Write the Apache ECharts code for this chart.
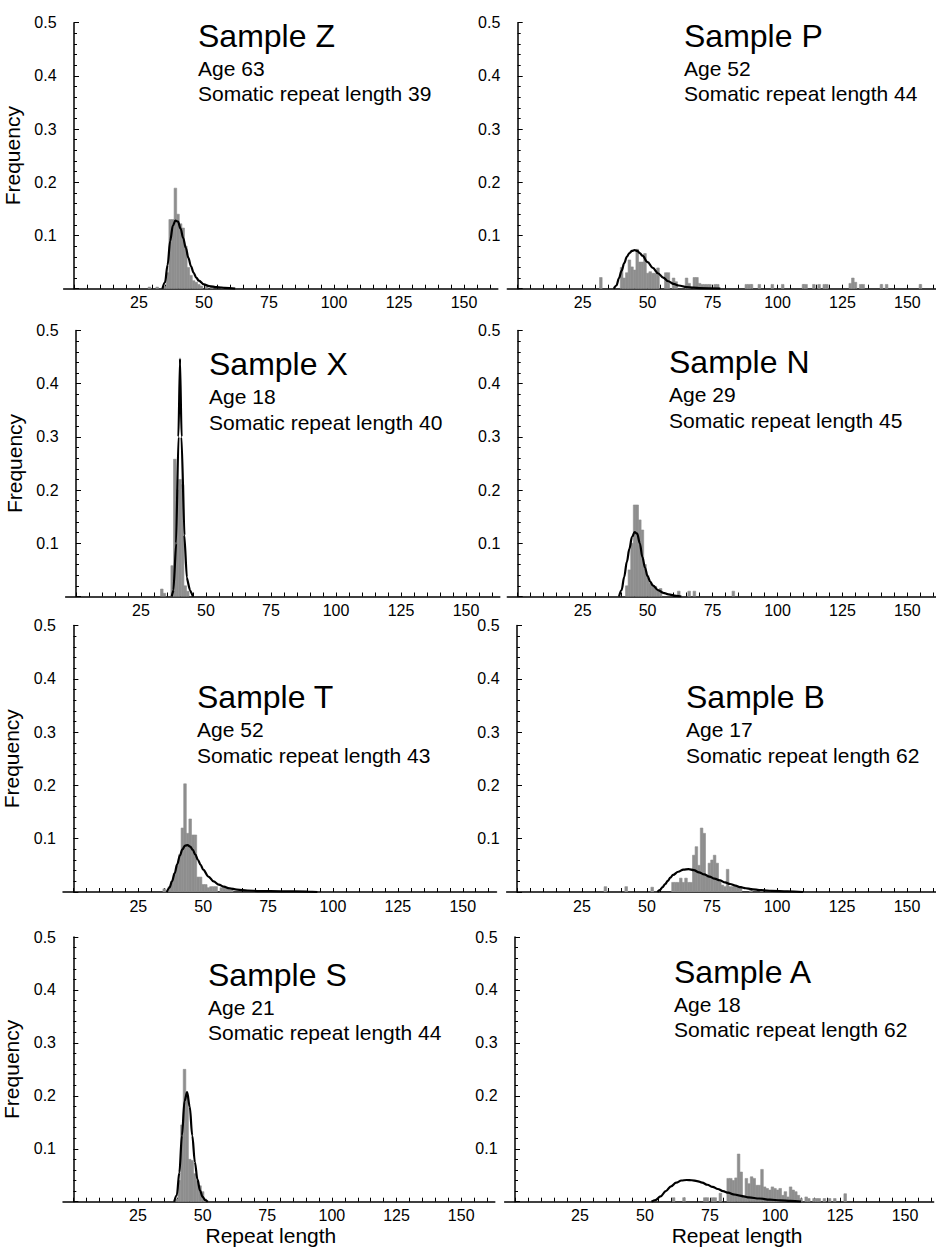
<!DOCTYPE html>
<html><head><meta charset="utf-8">
<script src="https://cdn.jsdelivr.net/npm/echarts@6/dist/echarts.min.js"></script>
<style>html,body{margin:0;padding:0;background:#fff}#c{width:936px;height:1247px}</style>
</head><body><div id="c"></div>
<script>
// ---------- data ----------
const sampleNames = ['Sample Z','Sample P','Sample X','Sample N','Sample T','Sample B','Sample S','Sample A'];
const ages = [63,52,18,29,52,17,21,18];
const somaticLengths = [39,44,40,45,43,62,44,62];
const xTickLabels = [25,50,75,100,125,150];
const yTickLabels = [0.1,0.2,0.3,0.4,0.5];

const barsZ = [[29,0.003],[32,0.003],[35,0.004],[36,0.03],[37,0.13],[38,0.13],[39,0.189],[40,0.14],[41,0.122],[42,0.114],[43,0.08],[44,0.04],[45,0.025],[46,0.015],[47,0.012],[48,0.008],[49,0.005],[51,0.006],[53,0.003],[57,0.003]];
const curveZ = [[34,0],[35,0.012],[36,0.045],[37,0.09],[38,0.118],[39,0.128],[40,0.126],[41,0.113],[42,0.095],[43,0.077],[44,0.058],[45,0.042],[46,0.03],[47,0.021],[48,0.015],[50,0.008],[52,0.005],[55,0.003],[58,0.0015],[62,0]];

const barsP = [[32,0.021],[40,0.04],[41,0.02],[42,0.03],[43,0.054],[44,0.041],[45,0.035],[46,0.074],[47,0.05],[48,0.05],[49,0.066],[50,0.029],[51,0.032],[52,0.029],[53,0.029],[54,0.039],[57,0.03],[58,0.03],[60,0.02],[61,0.013],[65,0.02],[66,0.01],[68,0.021],[69,0.021],[70,0.01],[71,0.008],[72,0.008],[73,0.008],[74,0.008],[76,0.008],[77,0.008],[88,0.008],[89,0.008],[90,0.008],[93,0.008],[98,0.008],[102,0.008],[110,0.008],[111,0.008],[114,0.008],[116,0.008],[118,0.008],[119,0.008],[128,0.01],[129,0.02],[130,0.012],[132,0.008],[133,0.008],[140,0.008],[142,0.008],[155,0.008]];
const curveP = [[37,0],[38,0.006],[39,0.02],[40,0.034],[41,0.048],[42,0.06],[43,0.067],[44,0.071],[45,0.0725],[46,0.071],[47,0.067],[48,0.062],[50,0.05],[52,0.039],[54,0.029],[56,0.021],[58,0.014],[60,0.009],[62,0.006],[65,0.003],[70,0.0012],[78,0]];

const barsX = [[33,0.014],[34,0.006],[37,0.058],[38,0.258],[39,0.2],[40,0.22],[41,0.21],[42,0.02],[43,0.01]];
const curveX = [[36.8,0],[37.5,0.012],[38.5,0.1],[39.4,0.3],[40,0.447],[40.6,0.3],[41.7,0.115],[42.6,0.036],[43.8,0.012],[45,0]];

const barsN = [[42,0.02],[43,0.05],[44,0.1],[45,0.172],[46,0.172],[47,0.144],[48,0.125],[49,0.06],[50,0.04],[51,0.025],[52,0.02],[53,0.019],[54,0.012],[55,0.015],[62,0.01],[66,0.01],[68,0.01],[83,0.01]];
const curveN = [[39,0],[40,0.012],[41,0.037],[42,0.065],[43,0.09],[44,0.112],[45,0.121],[46,0.118],[47,0.1],[48,0.074],[49,0.054],[50,0.038],[51,0.028],[52,0.021],[54,0.012],[56,0.007],[58,0.004],[61,0.001],[63,0]];

const barsT = [[35,0.006],[37,0.01],[38,0.02],[39,0.035],[40,0.05],[41,0.07],[42,0.12],[43,0.203],[44,0.11],[45,0.137],[46,0.107],[47,0.107],[48,0.028],[49,0.028],[50,0.014],[51,0.014],[52,0.008],[53,0.01],[54,0.01],[55,0.01],[57,0.008],[58,0.008],[59,0.008],[60,0.008],[61,0.006]];
const curveT = [[36,0],[37,0.008],[38,0.02],[39,0.035],[40,0.052],[41,0.068],[42,0.08],[43,0.087],[44,0.088],[45,0.085],[46,0.079],[47,0.07],[48,0.06],[49,0.051],[50,0.042],[52,0.029],[54,0.02],[56,0.014],[58,0.01],[60,0.007],[63,0.0045],[67,0.0028],[72,0.0018],[80,0.0012],[90,0.0008],[94,0]];

const barsB = [[34,0.01],[42,0.01],[52,0.009],[60,0.018],[61,0.018],[62,0.018],[63,0.026],[64,0.018],[65,0.026],[66,0.018],[67,0.018],[68,0.069],[69,0.085],[70,0.05],[71,0.12],[72,0.11],[73,0.029],[74,0.054],[75,0.06],[76,0.069],[77,0.054],[78,0.0225],[79,0.013],[80,0.01],[81,0.0425],[82,0.01],[83,0.01],[84,0.01],[85,0.01],[86,0.01],[90,0.003],[94,0.003]];
const curveB = [[54,0],[55,0.004],[56,0.009],[57,0.015],[58,0.021],[59,0.027],[60,0.032],[62,0.038],[64,0.042],[66,0.043],[68,0.041],[70,0.037],[72,0.033],[74,0.029],[76,0.025],[78,0.022],[80,0.018],[82,0.015],[84,0.012],[86,0.009],[88,0.007],[90,0.0055],[94,0.0035],[98,0.0022],[104,0.001],[110,0]];

const barsS = [[40,0.005],[41,0.04],[42,0.145],[43,0.25],[44,0.2],[45,0.08],[46,0.078],[47,0.053],[48,0.04],[49,0.03],[50,0.019],[51,0.005]];
const curveS = [[39,0],[40,0.012],[41,0.055],[42,0.125],[43,0.19],[44,0.207],[45,0.18],[46,0.125],[47,0.075],[48,0.042],[49,0.021],[50,0.009],[51,0.003],[52,0]];

const barsA = [[61,0.0075],[65,0.0075],[73,0.0075],[74,0.0075],[76,0.0075],[77,0.0075],[79,0.016],[82,0.044],[83,0.044],[84,0.04],[85,0.045],[86,0.09],[87,0.056],[88,0.01],[89,0.044],[90,0.034],[91,0.047],[92,0.044],[93,0.031],[94,0.031],[95,0.061],[96,0.028],[97,0.025],[98,0.022],[99,0.028],[100,0.025],[101,0.022],[102,0.025],[103,0.012],[104,0.019],[105,0.009],[106,0.028],[107,0.022],[108,0.019],[109,0.012],[110,0.006],[112,0.009],[113,0.006],[115,0.006],[116,0.006],[117,0.006],[119,0.006],[121,0.006],[123,0.006],[127,0.015]];
const curveA = [[52.5,0],[54,0.003],[56,0.01],[58,0.02],[60,0.029],[62,0.036],[64,0.04],[66,0.041],[68,0.0405],[70,0.039],[72,0.036],[74,0.032],[76,0.028],[78,0.024],[80,0.02],[82,0.017],[84,0.014],[86,0.012],[88,0.01],[90,0.008],[94,0.006],[98,0.004],[102,0.0025],[106,0.0015],[110,0]];

const allBars = [barsZ, barsP, barsX, barsN, barsT, barsB, barsS, barsA];
const allCurves = [curveZ, curveP, curveX, curveN, curveT, curveB, curveS, curveA];

// ---------- layout ----------
const PXU = 2.6;          // px per repeat unit
const XMIN = -4;
const colMax = [163, 161];
const yAxisPos = [[74, 517.7], [76, 517.7], [72.7, 517], [71, 515]];
const rowTop = [22.7, 330.5, 625.5, 937];
const rowH = [266, 266, 266.5, 264.7];
// text: [left x, title baseline, age baseline, somatic baseline]
const textPos = [
  [198, 47, 76, 101], [684, 47, 76, 101],
  [209, 375, 404, 430], [669, 373, 402, 428],
  [197, 708, 737, 763], [686, 708, 737, 763],
  [208, 986, 1015, 1040], [674, 983, 1012, 1037]
];
const FONT = '"Liberation Sans", Arial, Helvetica, sans-serif';
const TITLE_SIZE = 32, SUB_SIZE = 21, TICK_SIZE = 16;
const BAR_COLOR = '#8e8e8e';

const xTickPositions = [];
for (let v = 0; v <= 160; v += 5) xTickPositions.push(v);

const grids = [], xAxes = [], yAxes = [], series = [], graphics = [];
for (let i = 0; i < 8; i++) {
  const row = Math.floor(i / 2), col = i % 2;
  const xmax = colMax[col];
  const left = yAxisPos[row][col] + XMIN * PXU;
  grids.push({ left: left, top: rowTop[row], width: (xmax - XMIN) * PXU, height: rowH[row], containLabel: false });
  xAxes.push({
    gridIndex: i, type: 'value', min: XMIN, max: xmax,
    axisLine: { show: true, onZero: true, lineStyle: { color: '#000', width: 1.5 } },
    axisTick: { show: true, inside: true, length: 4, customValues: xTickPositions, lineStyle: { color: '#000', width: 1 } },
    axisLabel: { show: true, customValues: xTickLabels, color: '#000', fontSize: TICK_SIZE, fontFamily: FONT, margin: 6 },
    splitLine: { show: false },
    name: row === 3 ? 'Repeat length' : '',
    nameLocation: 'middle', nameGap: 22,
    nameTextStyle: { color: '#000', fontSize: 21, fontFamily: FONT, padding: col === 0 ? [0, 16, 0, 0] : [0, 0, 0, 36] }
  });
  yAxes.push({
    gridIndex: i, type: 'value', min: 0, max: 0.5, interval: 0.1,
    axisLine: { show: true, onZero: true, lineStyle: { color: '#000', width: 1.5 } },
    axisTick: { show: true, inside: true, length: 5, lineStyle: { color: '#000', width: 1 } },
    minorTick: { show: true, splitNumber: 5, length: 3, lineStyle: { color: '#000', width: 1 } },
    axisLabel: {
      color: '#000', fontSize: TICK_SIZE, fontFamily: FONT, margin: 7,
      formatter: v => yTickLabels.some(t => Math.abs(t - v) < 1e-9) ? v.toFixed(1) : ''
    },
    splitLine: { show: false },
    name: col === 0 ? 'Frequency' : '',
    nameLocation: 'middle', nameGap: 41, nameRotate: 90,
    nameTextStyle: { color: '#000', fontSize: 21, fontFamily: FONT }
  });
  series.push({
    type: 'custom', xAxisIndex: i, yAxisIndex: i, clip: true, z: 2,
    encode: { x: 0, y: 1 },
    data: allBars[i],
    renderItem: (params, api) => {
      const x = api.value(0), y = api.value(1);
      const p0 = api.coord([x - 0.5, y]);
      const p1 = api.coord([x + 0.5, 0]);
      return { type: 'rect', shape: { x: p0[0], y: p0[1], width: p1[0] - p0[0], height: p1[1] - p0[1] },
               style: { fill: BAR_COLOR, stroke: BAR_COLOR, lineWidth: 0.6 } };
    }
  });
  series.push({
    type: 'line', xAxisIndex: i, yAxisIndex: i, z: 3,
    data: allCurves[i], showSymbol: false, symbol: 'none',
    smooth: i === 2 ? 0.15 : 0.35, smoothMonotone: 'x',
    lineStyle: { color: '#000', width: 2.2 }
  });
  const tp = textPos[i];
  const lines = [
    [sampleNames[i], TITLE_SIZE, tp[1]],
    ['Age ' + ages[i], SUB_SIZE, tp[2]],
    ['Somatic repeat length ' + somaticLengths[i], SUB_SIZE, tp[3]]
  ];
  lines.forEach(l => {
    graphics.push({
      type: 'text', z: 10,
      style: { text: l[0], x: tp[0], y: l[2] - 0.85 * l[1], fill: '#000',
               fontSize: l[1], fontFamily: FONT, lineHeight: l[1], align: 'left', verticalAlign: 'top' }
    });
  });
}

const chart = echarts.init(document.getElementById('c'), null, { renderer: 'svg', width: 936, height: 1247 });
chart.setOption({
  backgroundColor: '#fff',
  animation: false,
  grid: grids, xAxis: xAxes, yAxis: yAxes, series: series,
  graphic: graphics
});
</script></body></html>
